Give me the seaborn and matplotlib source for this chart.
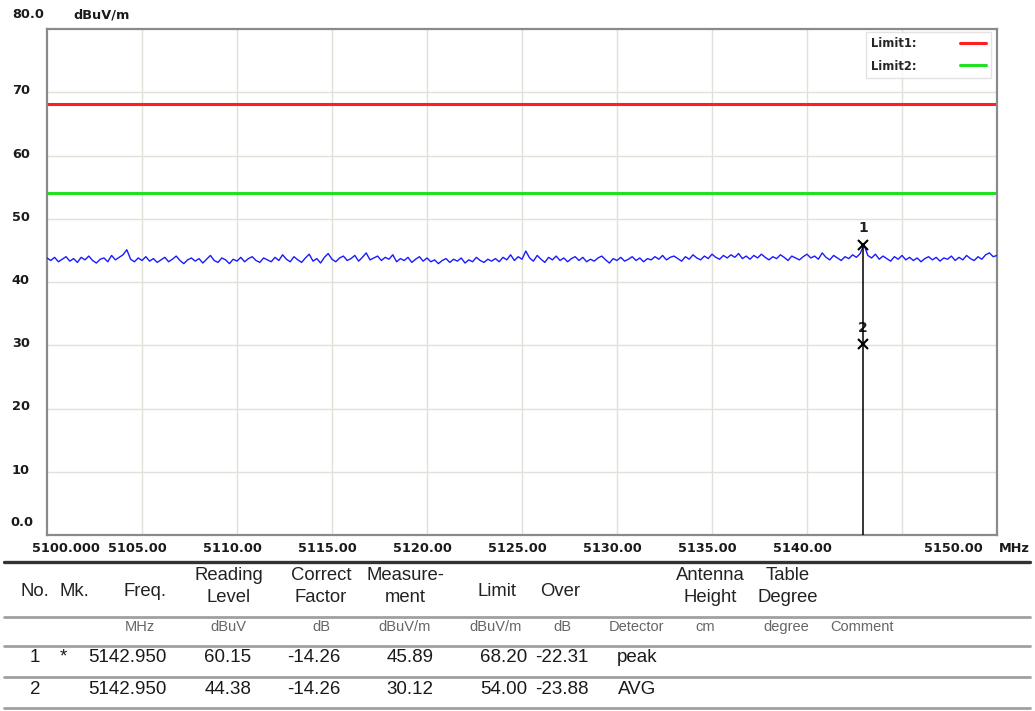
import numpy as np
import matplotlib
matplotlib.use("Agg")
import matplotlib.pyplot as plt
import matplotlib.transforms as mtransforms
from matplotlib.lines import Line2D
import seaborn as sns

# ---- measured trace (dBuV/m), 0.2 MHz steps from 5100 MHz ----
freq_start = 5100.0
freq_step = 0.2
level = [
    43.8, 43.4, 43.9, 43.2, 43.6, 44.0, 43.3, 43.7, 43.1, 43.9, 43.5, 44.1, 43.4, 43.0, 43.6, 43.8, 43.2, 44.2, 43.5, 43.9,
    44.3, 45.1, 43.6, 43.2, 43.8, 43.4, 44.0, 43.3, 43.7, 43.1, 43.5, 43.9, 43.2, 43.6, 44.1, 43.4, 42.9, 43.5, 43.8, 43.3,
    43.7, 43.0, 43.6, 44.2, 43.4, 43.1, 43.8, 43.5, 42.9, 43.6, 43.3, 43.9, 43.2, 43.7, 44.0, 43.4, 43.1, 43.8, 43.5, 43.2,
    43.9, 43.4, 44.3, 43.6, 43.2, 44.0, 43.5, 43.1, 43.8, 44.4, 43.3, 43.7, 43.0, 43.9, 44.5, 43.6, 43.2, 43.8, 44.1, 43.4,
    43.7, 44.2, 43.3, 43.9, 44.6, 43.5, 43.8, 44.1, 43.4, 43.9, 43.6, 44.3, 43.2, 43.7, 43.4, 43.9, 43.1, 43.6, 44.0, 43.3,
    43.8, 43.2, 43.5, 42.9, 43.4, 43.7, 43.1, 43.6, 43.3, 43.8, 43.0, 43.5, 43.2, 43.9, 43.4, 43.1, 43.6, 43.3, 43.7, 43.2,
    43.9, 43.5, 44.3, 43.4, 44.0, 43.6, 44.9, 43.8, 43.3, 44.2, 43.6, 43.1, 43.9, 43.5, 44.1, 43.4, 43.8, 43.2, 43.7, 44.0,
    43.4, 43.9, 43.2, 43.6, 43.3, 43.8, 44.1, 43.5, 43.0, 43.7, 43.4, 43.9, 43.3, 43.6, 44.0, 43.4, 43.8, 43.2, 43.7, 43.5,
    44.0, 43.6, 44.2, 43.5, 43.9, 44.1, 43.7, 43.3, 44.0, 43.6, 44.3, 43.8, 43.5, 44.1, 43.7, 44.4, 43.9, 43.6, 44.2, 43.8,
    44.3, 43.9, 44.5, 43.7, 44.1, 43.6, 44.2, 43.8, 44.4, 43.9, 43.5, 44.0, 43.7, 44.3, 43.9, 43.4, 44.1, 43.8, 43.5, 44.0,
    44.4, 43.8, 44.1, 43.6, 44.6, 43.9, 43.5, 44.2, 43.8, 43.4, 44.0, 43.7, 44.3, 43.9, 44.5, 45.9, 44.2, 43.8, 44.4, 43.6,
    44.1, 43.7, 43.3, 44.0, 43.6, 44.2, 43.5, 43.9, 43.4, 43.8, 43.2, 43.7, 44.0, 43.5, 43.9, 43.3, 43.8, 43.6, 44.1, 43.4,
    43.9, 43.5, 44.2, 43.7, 43.4, 44.0, 43.6, 44.3, 44.6, 44.0, 44.2,
]

# ---- limits ----
limit_names = ["Limit1:", "Limit2:"]
limit_values = [68.20, 54.00]
limit_colors = ["#ff1f1f", "#22e022"]

# ---- marker table ----
mk_no = ["1", "2"]
mk_flag = ["*", ""]
mk_freq = [5142.950, 5142.950]
mk_reading = [60.15, 44.38]
mk_factor = [-14.26, -14.26]
mk_measure = [45.89, 30.12]
mk_limit = [68.20, 54.00]
mk_over = [-22.31, -23.88]
mk_detector = ["peak", "AVG"]

x_ticks = [5105, 5110, 5115, 5120, 5125, 5130, 5135, 5140, 5145]
x_labels = ["5105.00", "5110.00", "5115.00", "5120.00", "5125.00", "5130.00", "5135.00", "5140.00", ""]
y_ticks = [10, 20, 30, 40, 50, 60, 70]
y_labels = ["10", "20", "30", "40", "50", "60", "70"]

sns.set_style("white")
plt.rcParams["font.family"] = ["Liberation Sans", "DejaVu Sans"]

W, H = 1035, 711
fig = plt.figure(figsize=(W / 100, H / 100), dpi=100)
# pixel coordinates measured from the top-left corner of the figure
pix = mtransforms.Affine2D().scale(1 / W, -1 / H).translate(0, 1) + fig.transFigure

ax_l, ax_r, ax_t, ax_b = 47, 997, 29, 535
ax = fig.add_axes([ax_l / W, 1 - ax_b / H, (ax_r - ax_l) / W, (ax_b - ax_t) / H])

freqs = freq_start + freq_step * np.arange(len(level))
sns.lineplot(x=freqs, y=level, ax=ax, color="#1a1aff", lw=1.0, zorder=3)

for val, col in zip(limit_values, limit_colors):
    ax.axhline(val, color=col, lw=2.2, zorder=2)

ax.set_xlim(5100, 5150)
ax.set_ylim(0, 80)
ax.set_xticks(x_ticks)
ax.set_yticks(y_ticks)
ax.set_xticklabels([])
ax.set_yticklabels([])
ax.tick_params(length=0)
ax.grid(True, color="#e2e0d8", lw=1.0, zorder=0)
ax.set_xlabel("")
ax.set_ylabel("")
for sp in ax.spines.values():
    sp.set_color("#8a8a8a")
    sp.set_linewidth(1.6)

# marker line and markers
ax.vlines(mk_freq[0], 0, mk_measure[0], color="black", lw=1.1, zorder=4)
for n, f, m in zip(mk_no, mk_freq, mk_measure):
    ax.plot(f, m, marker="x", color="black", ms=7, mew=1.5, zorder=5)
    ax.annotate(n, (f, m), xytext=(0, 7), textcoords="offset points",
                ha="center", va="bottom", fontsize=10, fontweight="bold",
                family="DejaVu Sans", color="#222222")

# legend: text first, line sample after it
handles = [Line2D([], [], color=c, lw=2.2) for c in limit_colors]
leg = ax.legend(handles, limit_names, loc="upper right", bbox_to_anchor=(0.9935, 0.995),
                markerfirst=False, handlelength=2.2, handletextpad=3.8,
                prop={"family": "DejaVu Sans", "weight": "bold", "size": 8.3},
                frameon=True, fancybox=False, borderpad=0.45, labelspacing=0.85,
                borderaxespad=0.0)
leg.get_frame().set_edgecolor("#dddddd")
leg.get_frame().set_linewidth(1.0)

# axis labels
tick_font = dict(family="DejaVu Sans", fontweight="bold", fontsize=9.3, color="#1a1a1a")
xtr = ax.get_xaxis_transform() + mtransforms.ScaledTranslation(-0.05, 0, fig.dpi_scale_trans)
for v, lab in zip(x_ticks, x_labels):
    if lab:
        ax.text(v, -0.026, lab, transform=xtr, ha="center", va="center", clip_on=False, **tick_font)
fig.text(66, 548, "5100.000", transform=pix, ha="center", va="center", **tick_font)
fig.text(953, 548, "5150.00", transform=pix, ha="center", va="center", **tick_font)
fig.text(1014, 548, "MHz", transform=pix, ha="center", va="center", **tick_font)

ytr = ax.get_yaxis_transform() + mtransforms.ScaledTranslation(0, 0.015, fig.dpi_scale_trans)
for v, lab in zip(y_ticks, y_labels):
    ax.text(-0.037, v, lab, transform=ytr, ha="left", va="center", clip_on=False, **tick_font)
fig.text(10, 522, "0.0", transform=pix, ha="left", va="center", **tick_font)
fig.text(12, 15, "80.0", transform=pix, ha="left", va="center", **tick_font)
fig.text(73, 15, "dBuV/m", transform=pix, ha="left", va="center", **tick_font)

# ---- result table below the plot ----
def hline(y, lw, color):
    fig.add_artist(Line2D([4, 1030], [y, y], transform=pix, color=color, lw=lw))

hline(562, 2.4, "#333333")
hline(617, 2.0, "#a0a0a0")
hline(646, 2.0, "#a0a0a0")
hline(677, 2.0, "#a0a0a0")
hline(708, 2.0, "#a0a0a0")

head_fs = 13.3
one_line = [("No.", 35), ("Mk.", 74), ("Freq.", 145), ("Limit", 497), ("Over", 560)]
two_line = [("Reading", "Level", 229), ("Correct", "Factor", 321), ("Measure-", "ment", 405),
            ("Antenna", "Height", 710), ("Table", "Degree", 788)]
for txt, x in one_line:
    fig.text(x, 592, txt, transform=pix, ha="center", va="center", fontsize=head_fs, color="#222222")
for t1, t2, x in two_line:
    fig.text(x, 575, t1, transform=pix, ha="center", va="center", fontsize=head_fs, color="#222222")
    fig.text(x, 598, t2, transform=pix, ha="center", va="center", fontsize=head_fs, color="#222222")

units = [("MHz", 140), ("dBuV", 228), ("dB", 321), ("dBuV/m", 405), ("dBuV/m", 496),
         ("dB", 562), ("Detector", 637), ("cm", 705), ("degree", 786), ("Comment", 862)]
for txt, x in units:
    fig.text(x, 627, txt, transform=pix, ha="center", va="center", fontsize=10.5, color="#666666")

row_y = [657, 689]
row_fs = 13.5
for i, y in enumerate(row_y):
    cells = [
        (mk_no[i], 35, "center"),
        (mk_flag[i], 63, "center"),
        (f"{mk_freq[i]:.3f}", 167, "right"),
        (f"{mk_reading[i]:.2f}", 228, "center"),
        (f"{mk_factor[i]:.2f}", 314, "center"),
        (f"{mk_measure[i]:.2f}", 410, "center"),
        (f"{mk_limit[i]:.2f}", 504, "center"),
        (f"{mk_over[i]:.2f}", 562, "center"),
        (mk_detector[i], 637, "center"),
    ]
    for txt, x, ha in cells:
        fig.text(x, y, txt, transform=pix, ha=ha, va="center", fontsize=row_fs, color="#1a1a1a")

fig.savefig("out.png", dpi=100, facecolor="white")
